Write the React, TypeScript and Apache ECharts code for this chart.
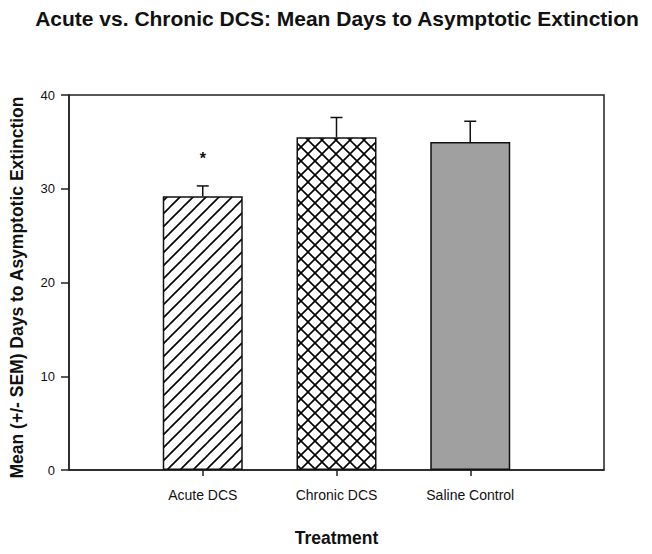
import React, { useEffect, useRef } from "react";
import * as echarts from "echarts";

const categories = ["Acute DCS", "Chronic DCS", "Saline Control"];
const means = [29.2, 35.5, 35.0];
const sems = [1.1, 2.1, 2.2];
const marks = ["*", "", ""];
const yTicks = [0, 10, 20, 30, 40];

const FONT = "'Liberation Sans', Arial, sans-serif";

function makePattern(kind: "diag" | "cross", size: number) {
  const c = document.createElement("canvas");
  c.width = size;
  c.height = size;
  const ctx = c.getContext("2d")!;
  ctx.fillStyle = "#ffffff";
  ctx.fillRect(0, 0, size, size);
  ctx.strokeStyle = "#000000";
  ctx.lineWidth = 1.6;
  ctx.lineCap = "square";
  const diag = (flip: boolean) => {
    for (const off of [-size, 0, size]) {
      ctx.beginPath();
      if (!flip) {
        ctx.moveTo(off, size);
        ctx.lineTo(off + size, 0);
      } else {
        ctx.moveTo(off, 0);
        ctx.lineTo(off + size, size);
      }
      ctx.stroke();
    }
  };
  diag(false);
  if (kind === "cross") diag(true);
  return { image: c, repeat: "repeat", imageWidth: size, imageHeight: size } as any;
}

export default function App() {
  const ref = useRef<HTMLDivElement>(null);
  useEffect(() => {
    const chart = echarts.init(ref.current!, null, { renderer: "svg" });
    const fills = [makePattern("diag", 13), makePattern("cross", 14), "#a0a0a0"];
    const padded = ["", ...categories, ""];
    const barData: any[] = [null, ...means.map((v, i) => ({ value: v, itemStyle: { color: fills[i] } })), null];
    const errData = means.map((m, i) => [i + 1, m, sems[i]]);
    chart.setOption({
      animation: false,
      title: {
        text: "Acute vs. Chronic DCS: Mean Days to Asymptotic Extinction",
        left: 332,
        textAlign: "center",
        top: 3,
        textStyle: { fontFamily: FONT, fontSize: 21, fontWeight: "bold", color: "#111" },
      },
      grid: {
        left: 69,
        right: 48,
        top: 95,
        bottom: 84,
        show: true,
        borderColor: "#222",
        borderWidth: 1.5,
        backgroundColor: "transparent",
      },
      xAxis: {
        type: "category",
        data: padded,
        boundaryGap: false,
        name: "Treatment",
        nameLocation: "middle",
        nameGap: 59,
        nameTextStyle: { fontFamily: FONT, fontSize: 17.5, fontWeight: "bold", color: "#111" },
        axisLine: { lineStyle: { color: "#222", width: 1.5 } },
        axisTick: {
          show: true,
          inside: false,
          length: 6,
          alignWithLabel: true,
          interval: (i: number) => i >= 1 && i <= categories.length,
          lineStyle: { color: "#222", width: 1.5 },
        },
        axisLabel: {
          interval: 0,
          margin: 18,
          fontFamily: FONT,
          fontSize: 14,
          color: "#111",
        },
        splitLine: { show: false },
      },
      yAxis: {
        type: "value",
        min: yTicks[0],
        max: yTicks[yTicks.length - 1],
        interval: 10,
        name: "Mean (+/- SEM) Days to Asymptotic Extinction",
        nameLocation: "middle",
        nameGap: 43,
        nameTextStyle: {
          fontFamily: FONT,
          fontSize: 17.5,
          fontWeight: "bold",
          color: "#111",
          padding: [0, 10, 0, 0],
        },
        axisLine: { show: true, lineStyle: { color: "#222", width: 1.5 } },
        axisTick: { show: true, inside: false, length: 8, lineStyle: { color: "#222", width: 1.5 } },
        axisLabel: { margin: 14, fontFamily: FONT, fontSize: 13, color: "#111" },
        splitLine: { show: false },
      },
      series: [
        {
          type: "bar",
          data: barData,
          barWidth: 80,
          itemStyle: { borderColor: "#111", borderWidth: 1.5 },
          z: 2,
        },
        {
          type: "custom",
          data: errData,
          encode: { x: 0, y: 1 },
          z: 3,
          renderItem: (params: any, api: any) => {
            const x = api.value(0);
            const m = api.value(1);
            const e = api.value(2);
            const base = api.coord([x, m]);
            const top = api.coord([x, m + e]);
            const children: any[] = [
              {
                type: "line",
                shape: { x1: base[0], y1: base[1], x2: top[0], y2: top[1] },
                style: { stroke: "#111", lineWidth: 1.5 },
              },
              {
                type: "line",
                shape: { x1: top[0] - 6, y1: top[1], x2: top[0] + 6, y2: top[1] },
                style: { stroke: "#111", lineWidth: 1.5 },
              },
            ];
            const mk = marks[params.dataIndex];
            if (mk) {
              children.push({
                type: "text",
                style: {
                  text: mk,
                  x: top[0],
                  y: top[1] - 27,
                  align: "center",
                  verticalAlign: "middle",
                  font: `bold 16px ${FONT}`,
                  fill: "#111",
                },
              });
            }
            return { type: "group", children };
          },
        },
      ],
    });
    return () => chart.dispose();
  }, []);
  return (
    <div
      ref={ref}
      style={{ position: "fixed", left: 0, top: 0, width: 652, height: 554, background: "#fff" }}
    />
  );
}
